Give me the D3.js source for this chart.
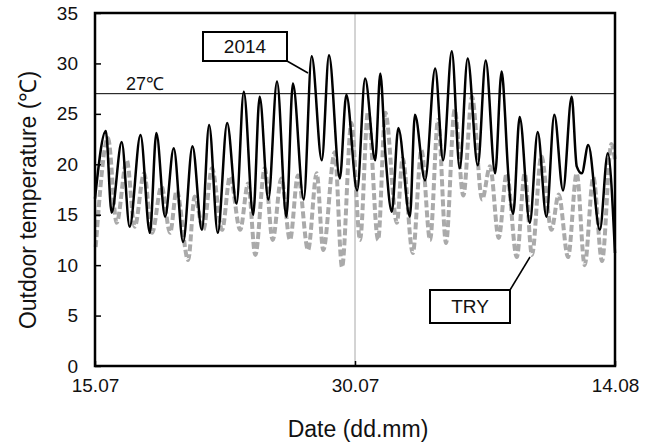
<!DOCTYPE html>
<html>
<head>
<meta charset="utf-8">
<script src="https://cdn.jsdelivr.net/npm/d3@7"></script>
<style>
  body { margin: 0; background: #fff; }
  svg text { font-family: "Liberation Sans", Arial, sans-serif; fill: #111; }
</style>
</head>
<body>
<svg id="chart" width="654" height="443"></svg>
<script>
// hours since 15.07 00:00 at daily turning points
var hours2014 = [0, 15, 23, 37, 48, 63, 76, 85, 97, 109, 122, 135, 148, 158, 170, 183, 196, 206, 219, 228,
    240, 252, 265, 274, 289, 300, 314, 324, 339, 348, 363, 374, 388, 395, 402, 411, 420, 436, 443, 457,
    471, 482, 494, 505, 516, 530, 541, 554, 563, 568, 570, 579, 588, 602, 613, 625, 636, 648, 660, 667,
    674, 683, 699, 710, 720];
var temp2014 = [16.6, 23.3, 15.2, 22.2, 13.8, 22.9, 13.2, 23.1, 14.8, 21.6, 12.3, 21.8, 13.5, 23.9, 13.2, 24.1, 16.1, 27.2, 15.0, 26.7,
    16.5, 28.2, 14.8, 28.0, 16.5, 30.7, 20.4, 30.8, 18.6, 26.9, 17.4, 28.5, 20.4, 29.0, 21.1, 15.3, 23.6, 14.8, 24.9, 18.4,
    29.5, 20.4, 31.2, 19.6, 30.5, 19.9, 30.3, 19.1, 29.2, 24.6, 21.7, 15.1, 24.7, 14.2, 23.2, 14.8, 24.9, 17.4, 26.7, 19.8,
    19.1, 21.9, 13.5, 21.1, 11.2];

var hoursTRY = [1, 18, 30, 44, 55, 68, 79, 92, 104, 113, 129, 138, 150, 162, 176, 187, 201, 212, 222, 235,
    246, 258, 270, 281, 295, 307, 316, 332, 342, 355, 367, 378, 392, 402, 418, 426, 440, 452, 464, 475,
    486, 498, 510, 522, 536, 547, 559, 570, 584, 595, 605, 618, 632, 642, 655, 667, 678, 690, 702, 715, 720];
var tempTRY = [11.8, 22.6, 14.2, 20.4, 13.8, 19.1, 13.2, 17.8, 13.2, 17.4, 10.5, 16.8, 13.5, 19.6, 13.5, 18.8, 13.5, 18.1, 11.0, 19.6,
    12.5, 18.6, 12.5, 18.9, 11.5, 19.1, 11.5, 21.2, 9.8, 24.1, 12.5, 25.2, 12.5, 25.1, 14.2, 20.6, 11.2, 21.4, 12.5, 24.4,
    12.2, 25.4, 16.9, 26.7, 16.5, 19.8, 12.7, 19.1, 10.8, 19.1, 11.0, 20.8, 13.5, 17.0, 10.8, 19.1, 10.0, 18.7, 10.4, 22.0, 20.4];

var xTickHours = [0, 360, 720];
var xTickLabels = ["15.07", "30.07", "14.08"];
var yTicks = [0, 5, 10, 15, 20, 25, 30, 35];
var threshold = 27;

var svg = d3.select("#chart");
var plotL = 95, plotR = 615, plotT = 13, plotB = 366;

var x = d3.scaleLinear().domain([0, 720]).range([plotL, plotR]);
var y = d3.scaleLinear().domain([0, 35]).range([plotB, plotT]);

function toPoints(hs, ts) {
    return hs.map(function(h, i) { return [h, ts[i]]; });
}

// marker line at 30.07
svg.append("line")
    .attr("x1", x(360)).attr("x2", x(360))
    .attr("y1", plotT).attr("y2", plotB)
    .attr("stroke", "#a8a8a8").attr("stroke-width", 1);

var line = d3.line()
    .x(function(d) { return x(d[0]); })
    .y(function(d) { return y(d[1]); })
    .curve(d3.curveMonotoneX);

svg.append("path")
    .datum(toPoints(hoursTRY, tempTRY))
    .attr("d", line)
    .attr("fill", "none")
    .attr("stroke", "#aaaaaa")
    .attr("stroke-width", 4)
    .attr("stroke-dasharray", "7,3");

svg.append("path")
    .datum(toPoints(hours2014, temp2014))
    .attr("d", line)
    .attr("fill", "none")
    .attr("stroke", "#000")
    .attr("stroke-width", 2.5)
    .attr("stroke-linejoin", "round");

svg.append("line")
    .attr("x1", plotL).attr("x2", plotR)
    .attr("y1", y(threshold)).attr("y2", y(threshold))
    .attr("stroke", "#000").attr("stroke-width", 1);

svg.append("text")
    .attr("x", 126).attr("y", y(threshold) - 4)
    .attr("font-size", 18)
    .text("27℃");

// axes
var yAxis = d3.axisLeft(y).tickValues(yTicks).tickSizeInner(-6).tickSizeOuter(0).tickPadding(17);
var gy = svg.append("g").attr("transform", "translate(" + plotL + ",0)").call(yAxis);

var xAxis = d3.axisBottom(x).tickValues(xTickHours)
    .tickFormat(function(d, i) { return xTickLabels[i]; })
    .tickSizeInner(-5).tickSizeOuter(0).tickPadding(13);
var gx = svg.append("g").attr("transform", "translate(0," + plotB + ")").call(xAxis);

[gy, gx].forEach(function(g) {
    g.select(".domain").remove();
    g.selectAll(".tick line").attr("stroke", "#000").attr("stroke-width", 1.5);
    g.selectAll(".tick text").attr("font-size", 19).attr("font-family", null).attr("fill", "#111");
});

svg.append("rect")
    .attr("x", plotL).attr("y", plotT)
    .attr("width", plotR - plotL).attr("height", plotB - plotT)
    .attr("fill", "none").attr("stroke", "#000").attr("stroke-width", 2.5);

// axis titles
svg.append("text")
    .attr("x", 358).attr("y", 437)
    .attr("text-anchor", "middle")
    .attr("font-size", 23)
    .text("Date (dd.mm)");

svg.append("text")
    .attr("transform", "translate(36,200) rotate(-90)")
    .attr("text-anchor", "middle")
    .attr("font-size", 23)
    .text("Outdoor temperature (℃)");

// series call-outs
function callout(label, bx, by, bw, bh, lx1, ly1, lx2, ly2) {
    svg.append("line")
        .attr("x1", lx1).attr("y1", ly1).attr("x2", lx2).attr("y2", ly2)
        .attr("stroke", "#000").attr("stroke-width", 1.5);
    svg.append("rect")
        .attr("x", bx).attr("y", by).attr("width", bw).attr("height", bh)
        .attr("fill", "#fff").attr("stroke", "#000").attr("stroke-width", 2);
    svg.append("text")
        .attr("x", bx + bw / 2).attr("y", by + bh / 2)
        .attr("dy", "0.36em")
        .attr("text-anchor", "middle")
        .attr("font-size", 19)
        .text(label);
}
callout("2014", 203, 32, 84, 29, 287, 61, 308, 73);
callout("TRY", 430, 290, 80, 33, 510, 290, 530, 257);
</script>
</body>
</html>
